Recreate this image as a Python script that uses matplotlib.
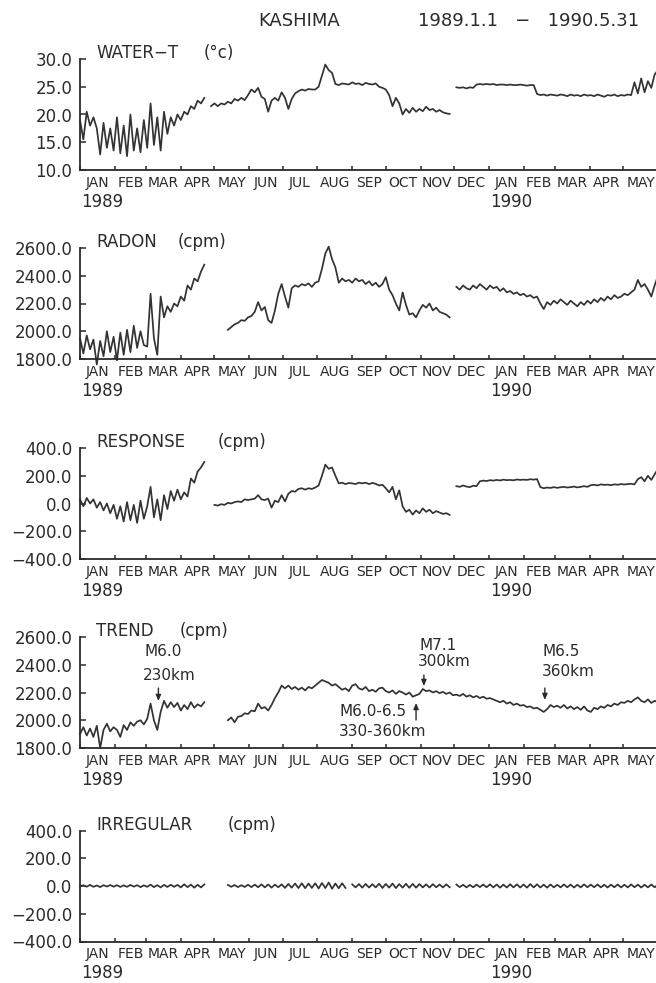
import numpy as np
import matplotlib
matplotlib.use("Agg")
import matplotlib.pyplot as plt
from matplotlib.transforms import blended_transform_factory

nan = np.nan

# Sampling grid: days since 1989-01-01, every 3 days through 1990-05-31
days = np.arange(0, 517, 3)

month_starts = [0, 31, 59, 90, 120, 151, 181, 212, 243, 273, 304, 334,
                365, 396, 424, 455, 485, 516]
month_names = ["JAN", "FEB", "MAR", "APR", "MAY", "JUN", "JUL", "AUG", "SEP",
               "OCT", "NOV", "DEC", "JAN", "FEB", "MAR", "APR", "MAY"]
year_names = ["1989", "1990"]
year_days = [0, 365]

water_t = [
    19.0, 15.5, 20.5, 18.0, 19.5, 17.5, 12.8, 18.5, 14.0, 17.5, 13.5,
    19.5, 13.0, 18.0, 12.5, 20.0, 13.5, 17.5, 13.2, 19.0,
    14.0, 22.0, 14.5, 19.5, 13.5, 20.5, 16.5, 19.5, 18.0, 20.0,
    19.0, 20.5, 20.0, 21.5, 21.0, 22.5, 22.0, 23.0, nan, 21.5,
    22.0, 21.5, 22.0, 21.8, 22.3, 22.0, 22.8, 22.5, 23.0, 22.6, 23.5,
    24.5, 24.0, 24.8, 23.2, 22.8, 20.5, 22.5, 23.0, 22.5, 24.0,
    23.0, 21.0, 22.8, 23.8, 24.2, 24.5, 24.3, 24.6, 24.5, 24.5,
    25.0, 27.0, 29.0, 28.0, 27.5, 25.5, 25.3, 25.6, 25.5, 25.4,
    25.8, 25.5, 25.6, 25.3, 25.7, 25.5, 25.4, 25.6, 25.0, 24.8,
    24.5, 23.5, 21.5, 23.0, 22.0, 20.0, 21.0, 20.3, 21.2, 20.5, 21.0,
    20.6, 21.4, 20.8, 21.0, 20.5, 20.8, 20.4, 20.2, 20.1, nan,
    24.9, 24.8, 24.9, 24.7, 24.9, 24.8, 25.4, 25.5, 25.4, 25.5,
    25.4, 25.5, 25.3, 25.4, 25.4, 25.3, 25.4, 25.3, 25.3, 25.4,
    25.3, 25.2, 25.3, 25.3, 23.7, 23.5, 23.6, 23.4, 23.6, 23.5,
    23.4, 23.6, 23.5, 23.3, 23.6, 23.4, 23.5, 23.3, 23.6, 23.4,
    23.5, 23.3, 23.6, 23.4, 23.2, 23.5, 23.4, 23.6, 23.3, 23.5,
    23.4, 23.6, 23.5, 25.8, 23.8, 26.5, 24.0, 26.0, 24.8, 27.2, 28.0,
]

radon = [
    1950, 1840, 1970, 1870, 1940, 1760, 1930, 1820, 2000, 1850, 1960,
    1790, 1990, 1830, 2010, 1850, 2040, 1880, 2000, 1900,
    1890, 2270, 1950, 1830, 2250, 2100, 2180, 2140, 2200, 2180,
    2250, 2220, 2330, 2300, 2380, 2360, 2430, 2480, nan, nan,
    nan, nan, nan, nan, 2010, 2030, 2050, 2060, 2080, 2075, 2100,
    2110, 2140, 2210, 2150, 2175, 2080, 2060, 2150, 2270, 2340,
    2250, 2170, 2310, 2330, 2320, 2340, 2330, 2345, 2320, 2350,
    2360, 2450, 2560, 2610, 2520, 2460, 2350, 2380, 2360, 2370,
    2350, 2380, 2360, 2370, 2340, 2360, 2330, 2350, 2320, 2340,
    2390, 2300, 2260, 2200, 2150, 2280, 2190, 2120, 2130, 2100, 2150,
    2190, 2170, 2200, 2150, 2170, 2140, 2130, 2120, 2100, nan,
    2320, 2300, 2330, 2310, 2300, 2330, 2310, 2340, 2320, 2300,
    2330, 2310, 2320, 2290, 2310, 2280, 2290, 2270, 2280, 2260,
    2270, 2250, 2260, 2240, 2250, 2200, 2160, 2210, 2190, 2220,
    2200, 2230, 2210, 2190, 2220, 2200, 2180, 2210, 2190, 2220,
    2200, 2230, 2210, 2240, 2220, 2250, 2230, 2260, 2240, 2250,
    2270, 2260, 2280, 2300, 2370, 2320, 2340, 2300, 2250, 2330, 2400,
]

response = [
    30, -20, 40, 0, 30, -30, 10, -50, 0, -70, -10,
    -110, -20, -130, 10, -120, -10, -140, 20, -110,
    -20, 120, -100, 30, -120, 60, -40, 90, 20, 100,
    30, 80, 50, 180, 150, 230, 260, 300, nan, nan,
    -10, -15, -5, -10, 5, 0, 10, 15, 10, 30, 25,
    30, 35, 60, 30, 25, 35, -30, 20, 10, 60,
    15, 70, 90, 85, 105, 110, 100, 110, 105, 115,
    130, 200, 280, 250, 260, 200, 145, 150, 140, 148,
    145, 140, 150, 145, 150, 140, 148, 142, 130, 135,
    110, 80, 120, 30, 95, -20, -60, -45, -80, -50, -70,
    -35, -60, -45, -70, -55, -65, -75, -70, -82, nan,
    125, 120, 130, 122, 118, 128, 125, 160, 165, 162,
    168, 165, 170, 166, 172, 168, 170, 167, 173, 170,
    172, 170, 175, 172, 176, 118, 110, 115, 112, 118,
    113, 117, 120, 115, 118, 122, 116, 120, 125, 120,
    132, 135, 130, 138, 134, 136, 132, 138, 135, 140,
    137, 140, 142, 138, 175, 190, 160, 200, 170, 210, 250,
]

trend = [
    1900, 1950, 1890, 1940, 1880, 1960, 1800, 1930, 1975, 1920, 1950,
    1930, 1880, 1965, 1930, 1985, 1960, 1990, 2000, 1970,
    2010, 2120, 2000, 1930, 2060, 2140, 2090, 2130, 2095, 2125,
    2070, 2110, 2080, 2130, 2090, 2115, 2100, 2130, nan, nan,
    nan, nan, nan, nan, 2000, 2020, 1985, 2025, 2030, 2050, 2045,
    2070, 2065, 2120, 2085, 2095, 2070, 2110, 2160, 2200, 2250,
    2230, 2250, 2225, 2240, 2220, 2235, 2215, 2240, 2230, 2250,
    2270, 2290, 2280, 2270, 2250, 2260, 2240, 2220, 2230, 2210,
    2250, 2260, 2230, 2220, 2240, 2210, 2220, 2205, 2230, 2235,
    2210, 2200, 2215, 2190, 2210, 2200, 2185, 2200, 2170, 2180, 2190,
    2225, 2210, 2215, 2200, 2210, 2195, 2205, 2190, 2200, 2180,
    2185, 2175, 2190, 2170, 2180, 2165, 2175, 2160, 2170, 2155,
    2160, 2150, 2140, 2130, 2140, 2120, 2130, 2110, 2120, 2105,
    2110, 2095, 2100, 2085, 2090, 2075, 2060, 2080, 2110, 2095,
    2105, 2090, 2110, 2085, 2100, 2080, 2095, 2075, 2100, 2070,
    2060, 2090, 2080, 2100, 2090, 2110, 2100, 2120, 2110, 2130,
    2125, 2140, 2130, 2150, 2165, 2140, 2130, 2150, 2125, 2140, 2130,
]

irregular = [
    0, 5, -5, 8, -6, 4, -8, 6, -4, 7, -5,
    6, -7, 5, -6, 8, -5, 6, -8, 5,
    -6, 10, -8, 6, -10, 8, -7, 9, -6, 8,
    -10, 12, -8, 10, -12, 9, -10, 11, nan, nan,
    nan, nan, nan, nan, 8, -6, 7, -8, 6, -7, 9,
    -8, 10, -9, 12, -10, 11, -12, 10, -9, 12,
    -14, 15, -12, 18, -15, 20, -16, 18, -14, 20,
    -18, 22, -15, 25, -20, 18, -16, 20, -14, nan,
    12, -10, 14, -12, 15, -11, 13, -10, 16, -14,
    15, -12, 18, -15, 14, -12, 16, -13, 15, -12, 14,
    -10, 12, -11, 13, -9, 11, -10, 12, -9, nan,
    10, -8, 9, -10, 8, -9, 10, -8, 11, -9,
    12, -10, 11, -12, 10, -11, 13, -10, 12, -11,
    11, -12, 14, -10, 12, -11, 10, -12, 11, -10,
    9, -10, 11, -9, 10, -11, 9, -10, 12, -9,
    10, -9, 11, -10, 9, -11, 10, -9, 11, -10,
    9, -10, 11, -9, 10, -11, 9, -10, 11, -9, 10,
]

# Earthquake markers on the TREND panel
quake_days = [70, 300, 307, 415]
quake_lines = [["M6.0", "230km"], ["M6.0-6.5", "330-360km"], ["M7.1", "300km"], ["M6.5", "360km"]]

INK = "#2b2b2b"
LINE = "#333333"

W, H = 656, 983
fig = plt.figure(figsize=(W / 100, H / 100), dpi=100)
fig.patch.set_facecolor("white")

ax_left_px, ax_w_px, ax_h_px = 80, 578, 111
bottoms_px = [170, 359, 559, 748, 941.5]

panels = [
    ("WATER\u2212T", "(\u00b0c)", water_t, (10, 30), [10, 15, 20, 25, 30], 204),
    ("RADON", "(cpm)", radon, (1800, 2600), [1800, 2000, 2200, 2400, 2600], 178),
    ("RESPONSE", "(cpm)", response, (-400, 400), [-400, -200, 0, 200, 400], 218),
    ("TREND", "(cpm)", trend, (1800, 2600), [1800, 2000, 2200, 2400, 2600], 180),
    ("IRREGULAR", "(cpm)", irregular, (-400, 400), [-400, -200, 0, 200, 400], 228),
]

month_mid = [(a + b) / 2 for a, b in zip(month_starts[:-1], month_starts[1:])]

def fmt(v):
    return f"{v:.1f}".replace("-", "\u2212")

axes = []
for (name, unit, vals, ylim, yt, unit_x), bpx in zip(panels, bottoms_px):
    ax = fig.add_axes([ax_left_px / W, 1 - bpx / H, ax_w_px / W, ax_h_px / H])
    axes.append(ax)
    ax.plot(days, np.asarray(vals, dtype=float), color=LINE, lw=1.25, clip_on=False)
    ax.set_xlim(0, 516)
    ax.set_ylim(*ylim)
    for s in ("top", "right"):
        ax.spines[s].set_visible(False)
    for s in ("left", "bottom"):
        ax.spines[s].set_linewidth(1.3)
        ax.spines[s].set_color(INK)
    ax.set_yticks(yt)
    ax.set_yticklabels([fmt(v) for v in yt])
    ax.tick_params(axis="y", direction="in", length=4, width=1.1, pad=5.5,
                   labelsize=12, colors=INK)
    ax.set_xticks(month_starts)
    ax.set_xticklabels([])
    ax.set_xticks(month_mid, minor=True)
    ax.set_xticklabels(month_names, minor=True)
    ax.tick_params(axis="x", which="major", direction="in", length=3, width=1.1, colors=INK)
    ax.tick_params(axis="x", which="minor", length=0, pad=4, labelsize=10, colors=INK)
    ax.set_facecolor("none")

    tr = blended_transform_factory(ax.transData, ax.transAxes)
    for yname, yd in zip(year_names, year_days):
        ax.text(yd + 1, -32 / ax_h_px, yname, transform=tr, ha="left", va="center",
                fontsize=12, color=INK)
    ax.text((96 - ax_left_px) / ax_w_px, 1 + 6 / ax_h_px, name, transform=ax.transAxes,
            ha="left", va="center", fontsize=12, color=INK)
    ax.text((unit_x - ax_left_px) / ax_w_px, 1 + 6 / ax_h_px, unit, transform=ax.transAxes,
            ha="left", va="center", fontsize=12, color=INK)

# Title line
fig.text(258 / W, 1 - 21 / H, "KASHIMA", ha="left", va="center", fontsize=13, color=INK)
fig.text(418 / W, 1 - 21 / H, "1989.1.1   \u2212   1990.5.31", ha="left", va="center",
         fontsize=13, color=INK)

# Earthquake annotations on TREND
ax_t = axes[3]
tr = blended_transform_factory(ax_t.transData, ax_t.transAxes)

def fy(ypx):
    return (748 - ypx) / ax_h_px

def fxd(xpx):
    return (xpx - ax_left_px) / 1.12

arrow_spec = [(688, 701), (720, 703), (675, 686), (688, 700)]
text_spec = [
    [(144, 652), (143, 675)],
    [(339, 711), (339, 732)],
    [(419, 645), (418, 662)],
    [(542, 651), (542, 672)],
]
for d, lines, (y0, y1), tpos in zip(quake_days, quake_lines, arrow_spec, text_spec):
    ax_t.annotate("", xy=(d, fy(y1)), xytext=(d, fy(y0)), xycoords=tr, textcoords=tr,
                  arrowprops=dict(arrowstyle="-|>,head_length=0.35,head_width=0.15",
                                  color=INK, lw=1.0, shrinkA=0, shrinkB=0))
    for txt, (xp, yp) in zip(lines, tpos):
        ax_t.text(fxd(xp), fy(yp), txt, transform=tr, ha="left", va="center",
                  fontsize=11, color=INK)

fig.savefig("out.png", dpi=100)
